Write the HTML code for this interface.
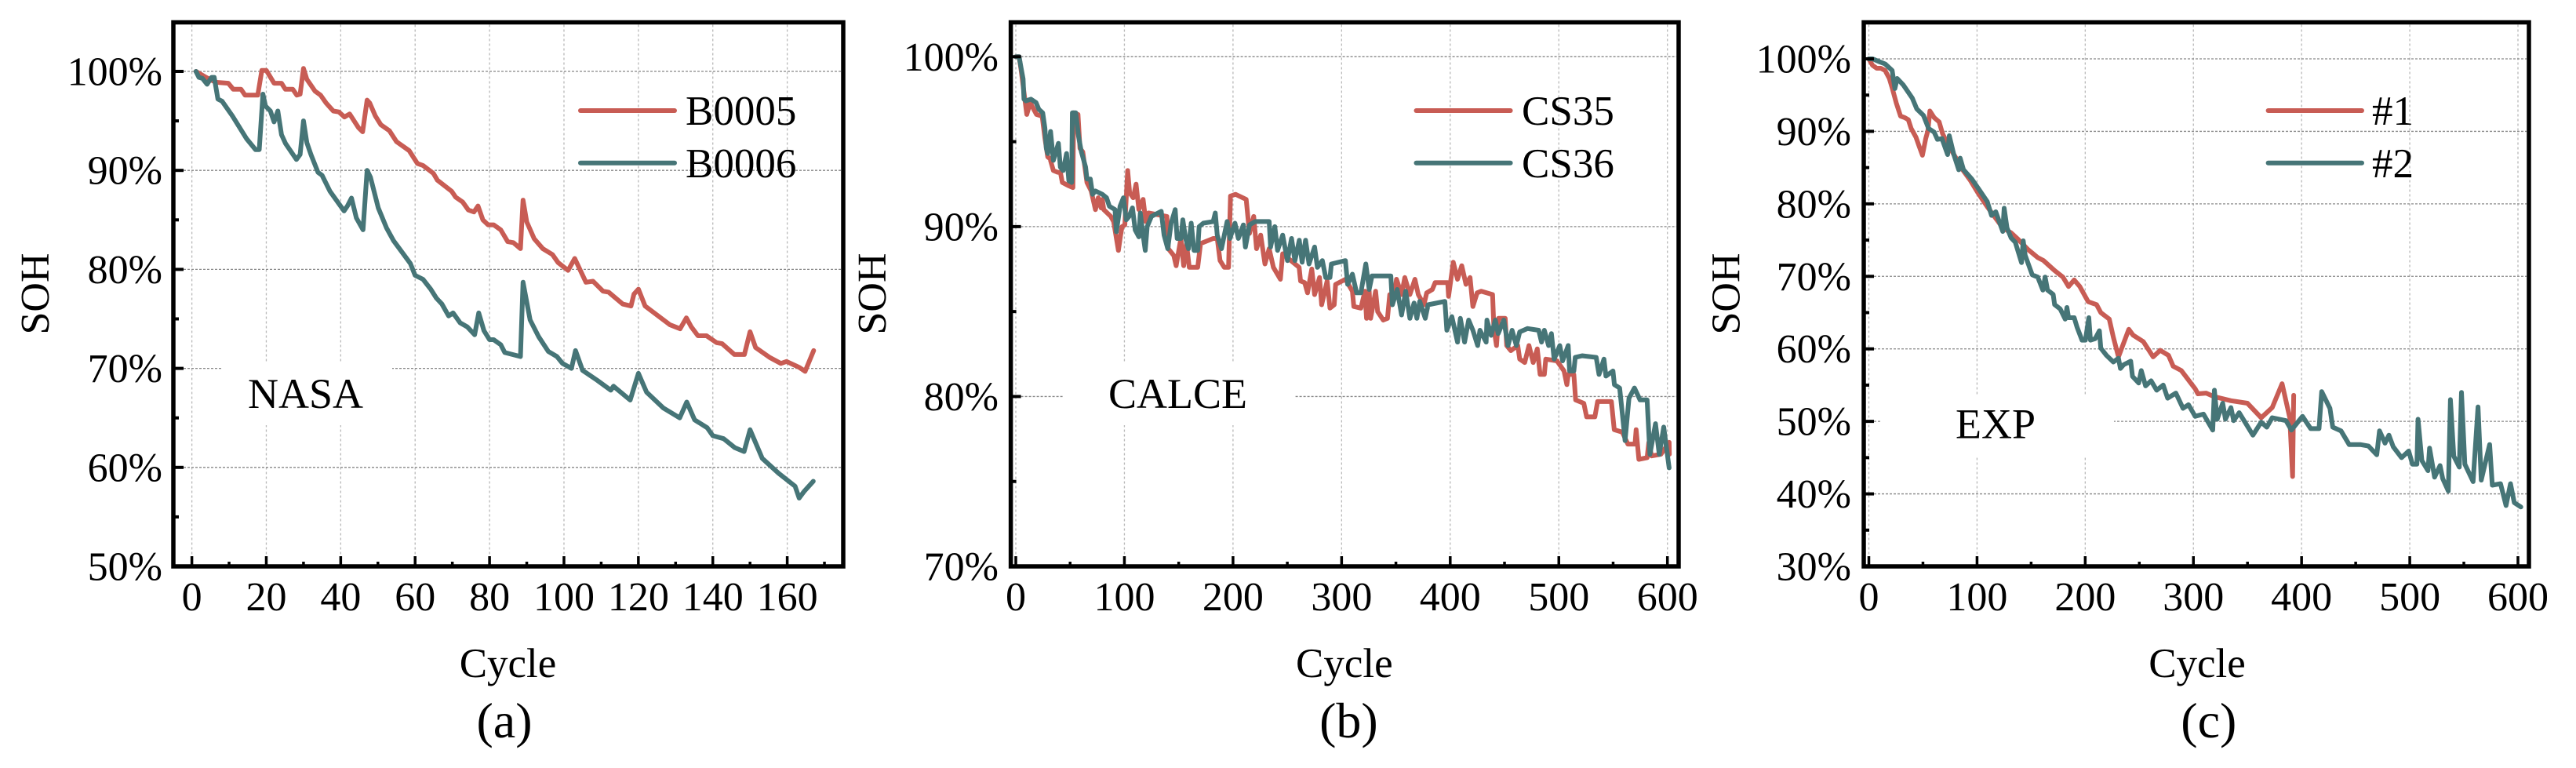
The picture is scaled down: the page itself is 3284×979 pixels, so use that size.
<!DOCTYPE html>
<html>
<head>
<meta charset="utf-8">
<title>SOH curves</title>
<style>
html,body{margin:0;padding:0;background:#fff;}
svg{display:block;}
text{font-family:"Liberation Serif","Times New Roman",serif;fill:#000;}
</style>
</head>
<body>
<svg id="chart" xmlns="http://www.w3.org/2000/svg" width="3284" height="979" viewBox="0 0 3284 979"></svg>
<script>
const nasaXTicks=[0,20,40,60,80,100,120,140,160];
const nasaXMinor=[10,30,50,70,90,110,130,150,170];
const nasaYTicks=[100,90,80,70,60,50];
const nasaYMinor=[95,85,75,65,55];
const b0005Cycles=[1.1,3.8,6.4,9.8,11.1,13.2,14.3,17.7,18.8,20,22.1,24.1,25.1,27.1,28.2,29.1,30,30.9,33.1,34.6,36.1,38,39.5,41,42.4,44.8,45.9,47.1,47.8,49.3,50.8,53.1,55,58.4,60.6,62.1,64.9,66,69.8,70.9,72.8,74.3,75.8,76.9,78.2,79.6,81.1,83,84.9,86.4,88.3,89,90,92,94.3,96.9,98.4,101.1,102.9,105.9,107.8,110.5,112,115.8,118,118.8,120,121.8,128.5,131.2,132.9,134.2,136,138.3,141,142.5,145.8,148.5,150,151.5,155.3,158.3,159.8,163.2,164.8,167.1];
const b0005Soh=[100,99.4,98.9,98.8,98.2,98.2,97.6,97.6,100.1,100.1,98.8,98.8,98.2,98.2,97.6,97.7,100.3,99.2,98,97.6,96.8,96,95.9,95.4,95.7,94.3,93.9,97.1,96.8,95.5,94.6,94,92.9,92,90.7,90.5,89.7,89,87.9,87.3,86.8,86,85.8,86.4,85,84.5,84.5,84,82.8,82.7,82.1,87,84.8,83.1,82.1,81.5,80.7,79.9,81.1,78.7,78.8,77.8,77.7,76.5,76.3,77.5,78,76.3,74.4,74,75.1,74.2,73.3,73.3,72.6,72.5,71.4,71.4,73.7,72.1,71.1,70.5,70.7,70.1,69.7,71.8];
const b0006Cycles=[1.1,1.9,2.8,4.1,5.3,6,7,8.1,10.9,14.7,17.1,18.1,19.1,19.8,21.1,22.1,23.1,24.1,25.2,28.1,29.1,30,30.9,32,33.9,35,37.1,40.9,41.8,42.9,44.2,46,47.1,48,50.1,52.3,54.2,58.7,60,62.1,64.2,65.7,67.2,69,70.2,72.1,74,76,77.1,78.5,80,81.1,83,84.1,88.3,89,90.9,93.2,95.8,98.1,99.6,102,103.1,105,108.9,112.6,113.3,117.8,120,122.2,126.7,131.1,133,135.1,138.5,140,142.9,145.9,148.4,150,153.3,157.7,162.1,163.2,164.6,167];
const b0006Soh=[100,99.4,99.3,98.7,99.4,99.4,97.2,97,95.5,93.2,92.1,92.1,97.7,96.5,96,94.9,96,93.6,92.7,91.1,91.6,95,92.8,91.6,89.8,89.5,87.9,85.9,86.4,87.2,85.2,84,90,89.3,86.2,84.2,82.9,80.6,79.4,79,78,77.1,76.5,75.3,75.6,74.6,74.2,73.4,75.6,73.8,72.9,72.9,72.4,71.6,71.2,78.7,74.9,73.2,71.7,71.2,70.5,70,71.8,69.8,68.8,67.8,68.2,66.8,69.5,67.6,66,65,66.6,64.8,64,63.2,62.9,62,61.6,63.8,60.9,59.4,58.1,56.9,57.6,58.6];

const calceXTicks=[0,100,200,300,400,500,600];
const calceXMinor=[50,150,250,350,450,550];
const calceYTicks=[100,90,80,70];
const calceYMinor=[95,85,75];
const cs35Cycles=[0,3,4.9,6.7,10.1,13.2,19.1,24.3,26.8,29.4,31.5,34.6,38.5,41,42.8,48.8,52.6,53.2,57.3,59.1,61.7,65.5,69.4,73.3,75.9,78.5,79.7,81,87.5,90.1,94.5,96.5,97.8,100.4,103,104.8,108.1,110.7,113.3,117.2,119.7,122.3,139.1,140.4,145.5,147.6,152,154.6,157.2,159.7,163.6,167.5,170.1,181.7,185.5,188.1,192,195.9,197.7,202.3,212.1,215.2,219.1,221.7,225.5,229.4,233.3,237.2,243.6,245.7,260.9,262.2,266,268.6,272.5,275.1,279.7,281.6,286.7,289.3,293.2,294.5,303.5,309.9,311.2,317.7,321.5,322.9,325.4,326.7,331.3,333.2,338.3,342.2,344.3,348.7,350.5,355.2,358.2,362.9,367.5,370.6,375.8,378.3,383.5,386.1,397.7,398.5,402.8,406.7,410.6,414.5,418.3,420.9,424.8,428.6,439,440.2,442.6,444.4,450.6,452,455.8,462.2,464,468.6,472.5,476.4,480.2,482.8,486.7,488,498.3,504.8,507.4,508.7,513.8,515.5,523,525.6,533.2,535.7,548.4,551,558.5,563.6,570.2,571.2,573.7,581.3,582.9,585.4,594,601.6,601.8];
const cs35Soh=[100,100,99.2,98.3,96.6,97.3,96.6,96.5,95.2,94.1,94,93.3,93.2,93.2,92.6,92.4,92.3,96.7,96.6,94.6,94.4,92.6,92.1,91,91.7,91.1,91.6,91,90.6,90.3,88.6,89.5,90,90.1,93.3,92,91.7,92.5,91,91.6,90.3,90.8,90.6,88.7,88.3,87.7,89.3,87.7,89,87.6,87.6,87.6,89,89.3,89.3,88,87.6,87.6,91.8,91.9,91.6,89.6,90.6,88.7,89.5,87.8,88.7,87.6,86.9,88.4,87.6,86.8,86.7,86.1,87.5,86,87,85.4,86.8,85.2,85.4,86.6,86.9,86.2,85.3,85.2,86.2,84.6,86.2,84.6,86.2,85,84.5,84.6,86,86,86.9,86,87,86,86.9,86,85.4,86.1,86.3,86.7,86.7,85.9,87.9,86.9,87.7,86.6,87,85.3,86.1,86.2,86,84,83,84.6,84.6,83,82.7,83,82.2,82,83,82,82.8,81.3,81.3,82.2,82.1,81.5,80.7,81.3,81.3,79.8,79.6,78.8,78.8,79.7,79.7,78.05,77.9,77.2,77.2,78.05,76.3,76.4,77.3,76.5,76.6,77.3,76.6];
const cs36Cycles=[0,3,5,6.7,7.5,9.3,13.9,18.6,21.2,24.8,26.8,28.1,29.4,32,34.6,39.2,41,43.6,46.7,48.8,51.4,52.1,55.2,57.8,60.4,64.3,65.5,68.6,70.7,73.3,79.7,83.6,86.2,91.4,92.6,96,99.1,101.7,104.3,107.4,109.9,113.3,114.6,117.2,119.2,121,124.9,133.9,136.5,139.9,143,146.8,148.6,152,153.8,156.4,159,161.5,164.1,167.5,168.8,172.6,181.7,183.7,185.5,189.4,194.6,197.2,201.8,204.9,209.5,211.4,215.2,220.4,233.3,234.6,238.5,241,245.7,250.1,253.9,257,261,263.6,266.8,270,275.1,277.7,282.3,285.4,289.3,290.6,303.5,305.5,309.9,313.8,317.7,322.3,325.4,328,345.3,346.8,351.2,355.2,359,362.9,366.7,369.3,371.9,377,379.6,395.1,396.9,401.5,406.7,409.3,413.2,417,420.9,425.3,427.4,433.1,433.8,437.7,441.5,444.1,449.3,453.2,457,460.9,464,471.2,481.5,484.1,486.7,490.6,493.2,495.7,500.9,503.5,508.6,509.9,513.8,515.1,521.5,534.4,537,541.6,543.4,549.9,551.2,556,558.5,561,564.6,569.7,574.8,581.3,583.9,589,592.5,596.6,601.6];
const cs36Soh=[100,100,99.3,98.7,97.5,97.4,97.5,97.3,96.9,96.7,95.8,94.6,94.3,95.6,93.9,94.9,93.5,93.3,94.3,92.7,92.6,96.7,96.7,95.3,94.4,93.5,92.8,92.8,91.9,92.1,91.9,91.7,91.2,91,89.7,91.2,91.7,90.4,90.6,91.1,89.8,89.4,90.8,89.5,88.6,90,90.6,90.9,89.5,88.7,90.2,91,89.3,89.3,90.4,89.3,88.7,90.2,88.6,88.6,90,90.2,90.3,90.8,89.5,88.7,90.3,89.3,90.2,89.3,90.1,88.8,90.1,90.3,90.3,88.8,90,88.6,89.5,88,89.3,88,89.2,87.9,89.2,87.8,88.8,87.6,88,87,87,87.8,88,86.6,87.2,86.1,86.1,87.8,86.3,87.1,87.1,85.4,86.3,84.8,86.2,84.6,85.5,84.6,85.6,84.6,85.4,85.6,83.9,84.7,83.2,84.6,83.2,84.5,83.9,83,83.9,83.2,84.5,83.6,84.5,83.7,84.5,83,83.9,83,83.8,84,83.9,83.2,83.9,83,83.7,82.2,83,82.1,83,81.5,81.5,82.3,82.4,82.3,81.3,82.2,81.2,81.5,80.7,80.5,79,77.4,79.9,80.5,79.8,79.8,76.6,78.4,76.6,78.2,75.8];

const expXTicks=[0,100,200,300,400,500,600];
const expXMinor=[50,150,250,350,450,550];
const expYTicks=[100,90,80,70,60,50,40,30];
const expYMinor=[95,85,75,65,55,45,35];
const exp1Cycles=[0,3.4,7.3,11.1,15,18.9,21.5,25.4,29.3,33.1,36.5,39.1,43.5,46.1,49.5,52.6,54.6,56.4,60.3,65,68.1,73.3,79.8,86.2,94,100.5,109.5,117.3,123.8,131.5,138,147.1,156.1,161.3,171.7,179.4,184.6,189.8,195,202.7,210.5,214.4,222.2,226,230.7,240.3,244.2,253.7,258.9,262.8,269.3,277,281.3,288.9,301.6,304.2,311.8,319.4,334.7,349.9,362.7,372.8,382,389.1,391.7,392.7];
const exp1Soh=[100,99.1,98.7,98.7,98.4,97.3,96,93.9,92.1,91.9,91.6,90.4,89.2,88.1,86.7,89,90.1,92.8,91.9,91.3,89.7,88.1,86.5,84.8,83.2,81.6,79.6,78,76.7,76,75.1,73.7,72.6,72.2,70.8,69.9,68.6,69.5,68.6,66.5,66.1,65,64.1,61.6,58.9,62.7,61.9,61,59.8,58.9,59.8,59.1,57.6,57,54.5,53.8,53.9,53.4,52.85,52.5,50.5,51.9,55.2,50.5,42.4,53.6];
const exp2Cycles=[0,3.4,9.8,15,21.5,24.1,26.2,31.8,40.1,44.3,50.5,55.2,60.3,63.4,67.6,72.8,74.3,78.5,83.1,84.4,87.5,95.3,101.8,109.5,113.4,117.3,123.8,125.1,127.7,131.5,135.4,141.1,142.7,144.5,151,156.1,160.8,162.9,165.2,170.4,171.7,176.9,181.5,183.1,184.6,189.8,192.4,197,200.2,203.3,204.8,209.2,213.1,214.4,219.6,226,230.7,232.5,235.4,242,243.7,249.4,251.8,255.8,260.9,266,272.1,276.2,283.8,290.4,295.5,301.6,309.3,317.9,319.4,322,327.1,329.6,334.7,337.2,342.3,355,362.7,367.8,372.8,385.6,390.6,400.8,408.4,416.1,418.6,426.2,428.8,436.4,444,454.2,461.8,469.5,472,477.1,480.7,484.7,492.4,499,502.5,506.6,507.6,511.2,516.8,518.3,522.9,528,530.5,535.6,537.6,540.7,545.8,547.8,550.9,558.5,563.1,566.1,573.8,576.3,583.9,589,593.1,596.6,602.7];
const exp2Soh=[100,100,99.6,99.3,98.4,95.9,97.3,96.4,94.6,93.1,92.2,90.4,89.9,88.9,89,86.8,89.4,86.8,84.7,86.3,84.7,83.4,82,80.3,78.4,78.9,76.2,79.4,76.7,75.3,74.7,71.9,74.9,72.9,70.2,69.9,68.1,69.9,68.1,67.5,66.1,65.5,64.1,65.7,64.3,64.3,63,61.2,61.2,64.3,61.2,61.4,62.5,60.1,59.1,58.2,58.7,57.3,57.8,58.3,56.2,55.3,57,54.9,55.6,54.3,55,53.2,53.9,51.8,52.3,50.7,51,48.8,54.3,50.3,52.5,50.3,51.9,50.1,51.2,48.1,49.9,49.2,50.5,50.1,48.8,50.7,49,49,54.1,51.8,49.2,48.7,46.8,46.8,46.6,45.4,48.7,47,48.1,46.5,45,45.9,44.1,44.1,50.3,44.6,43.2,46.3,42.3,43.9,42.1,40.4,53,45.2,43.7,54,44.1,41.7,52,41.9,46.8,41.2,41.4,38.4,41.4,38.8,38.2];

const RED='#C85C54';
const TEAL='#467577';
const NS='http://www.w3.org/2000/svg';
const svg=document.getElementById('chart');

function el(tag,attrs,parent){
  const e=document.createElementNS(NS,tag);
  for(const k in attrs){e.setAttribute(k,attrs[k]);}
  (parent||svg).appendChild(e);
  return e;
}
function txt(str,attrs,parent){
  const e=el('text',attrs,parent);
  e.textContent=str;
  return e;
}
function linear(d0,d1,r0,r1){
  return function(v){return r0+(v-d0)*(r1-r0)/(d1-d0);};
}

function drawPanel(p){
  const g=el('g',{});
  
  
  const x=linear(p.xD[0],p.xD[1],p.xR[0],p.xR[1]);
  const y=linear(p.yD[0],p.yD[1],p.yR[0],p.yR[1]);
  const top=28.5,bottom=722;

  p.xTicks.forEach(function(t){
    const l=el('line',{x1:x(t),x2:x(t),y1:top+3,y2:bottom-3,stroke:'#b8b8b8','stroke-width':1.3,'stroke-dasharray':'3 3'},g);
    
    
  });
  p.yTicks.forEach(function(t){
    const l=el('line',{x1:p.left+3,x2:p.right-3,y1:y(t),y2:y(t),stroke:'#888888','stroke-width':1.3,'stroke-dasharray':'3 2'},g);
    
    
  });

  const box=el('rect',{x:p.box[0],y:p.box[1],width:p.box[2],height:p.box[3],fill:'#ffffff'},g);
  
  

  p.series.forEach(function(s){
    const n=Math.min(s.cycles.length,s.soh.length);
    const pts=[];
    for(let i=0;i<n;i++){pts.push(x(s.cycles[i]).toFixed(1)+','+y(s.soh[i]).toFixed(1));}
    const l=el('polyline',{points:pts.join(' '),fill:'none',stroke:s.color,'stroke-width':6,'stroke-linejoin':'round','stroke-linecap':'round'},g);
    
    
  });

  const frame=el('rect',{x:p.left,y:top,width:p.right-p.left,height:bottom-top,fill:'none',stroke:'#000','stroke-width':5.5},g);
  
  

  p.xTicks.forEach(function(t){
    const m=el('line',{x1:x(t),x2:x(t),y1:bottom,y2:709,stroke:'#000','stroke-width':3.5},g);
    
    
    const lab=txt(String(t),{x:x(t),y:778,'font-size':52,'text-anchor':'middle'},g);
    
    
  });
  p.xMinor.forEach(function(t){
    const m=el('line',{x1:x(t),x2:x(t),y1:bottom,y2:716,stroke:'#000','stroke-width':3.5},g);
    
    
  });
  p.yTicks.forEach(function(t){
    const m=el('line',{x1:p.left,x2:p.left+13,y1:y(t),y2:y(t),stroke:'#000','stroke-width':4},g);
    
    
    const lab=txt(t+'%',{x:p.labelRight,y:y(t)+17.5,'font-size':52,'text-anchor':'end'},g);
    
    
  });
  p.yMinor.forEach(function(t){
    const m=el('line',{x1:p.left,x2:p.left+7,y1:y(t),y2:y(t),stroke:'#000','stroke-width':4},g);
    
    
  });

  const yTitle=txt('SOH',{transform:'translate('+p.soh+',374.5) rotate(-90)','font-size':52,'text-anchor':'middle'},g);
  
  
  const xTitle=txt('Cycle',{x:p.cycle,y:863,'font-size':53,'text-anchor':'middle'},g);
  
  
  const cap=txt(p.caption,{x:p.captionX,y:940,'font-size':64,'text-anchor':'middle'},g);
  
  
  const ds=txt(p.dataset,{x:p.datasetX,y:p.datasetY,'font-size':54},g);
  
  

  p.series.forEach(function(s,i){
    const ly=i===0?141:207.7;
    const lb=i===0?159:226;
    const l=el('line',{x1:p.legend[0]+3,x2:p.legend[1]-3,y1:ly,y2:ly,stroke:s.color,'stroke-width':6,'stroke-linecap':'round'},g);
    
    
    const t=txt(s.name,{x:p.legend[2],y:lb,'font-size':53},g);
    
    
  });
}

drawPanel({key:'nasa',caption:'(a)',captionX:643,cycle:647.5,dataset:'NASA',datasetX:316,datasetY:520,soh:62,
  left:221,right:1075,labelRight:207,box:[283,463,217,79],
  xD:[0,160],xR:[244.6,1003.6],yD:[100,50],yR:[91,722],
  xTicks:nasaXTicks,xMinor:nasaXMinor,yTicks:nasaYTicks,yMinor:nasaYMinor,legend:[737,863,874],
  series:[{id:'b0005',name:'B0005',color:RED,cycles:b0005Cycles,soh:b0005Soh},{id:'b0006',name:'B0006',color:TEAL,cycles:b0006Cycles,soh:b0006Soh}]});

drawPanel({key:'calce',caption:'(b)',captionX:1719.4,cycle:1713.8,dataset:'CALCE',datasetX:1413,datasetY:520,soh:1129,
  left:1288.6,right:2140,labelRight:1273,box:[1356,463,295,79],
  xD:[0,600],xR:[1295,2125.7],yD:[100,70],yR:[72.3,722],
  xTicks:calceXTicks,xMinor:calceXMinor,yTicks:calceYTicks,yMinor:calceYMinor,legend:[1802.5,1928.6,1940],
  series:[{id:'cs35',name:'CS35',color:RED,cycles:cs35Cycles,soh:cs35Soh},{id:'cs36',name:'CS36',color:TEAL,cycles:cs36Cycles,soh:cs36Soh}]});

drawPanel({key:'exp',caption:'(c)',captionX:2815.8,cycle:2801,dataset:'EXP',datasetX:2493,datasetY:558.6,soh:2217.5,
  left:2376,right:3224,labelRight:2360,box:[2398,503,297,78],
  xD:[0,600],xR:[2382.5,3210],yD:[100,30],yR:[75,722],
  xTicks:expXTicks,xMinor:expXMinor,yTicks:expYTicks,yMinor:expYMinor,legend:[2888.6,3014,3024],
  series:[{id:'exp-1',name:'#1',color:RED,cycles:exp1Cycles,soh:exp1Soh},{id:'exp-2',name:'#2',color:TEAL,cycles:exp2Cycles,soh:exp2Soh}]});
</script>
</body>
</html>
